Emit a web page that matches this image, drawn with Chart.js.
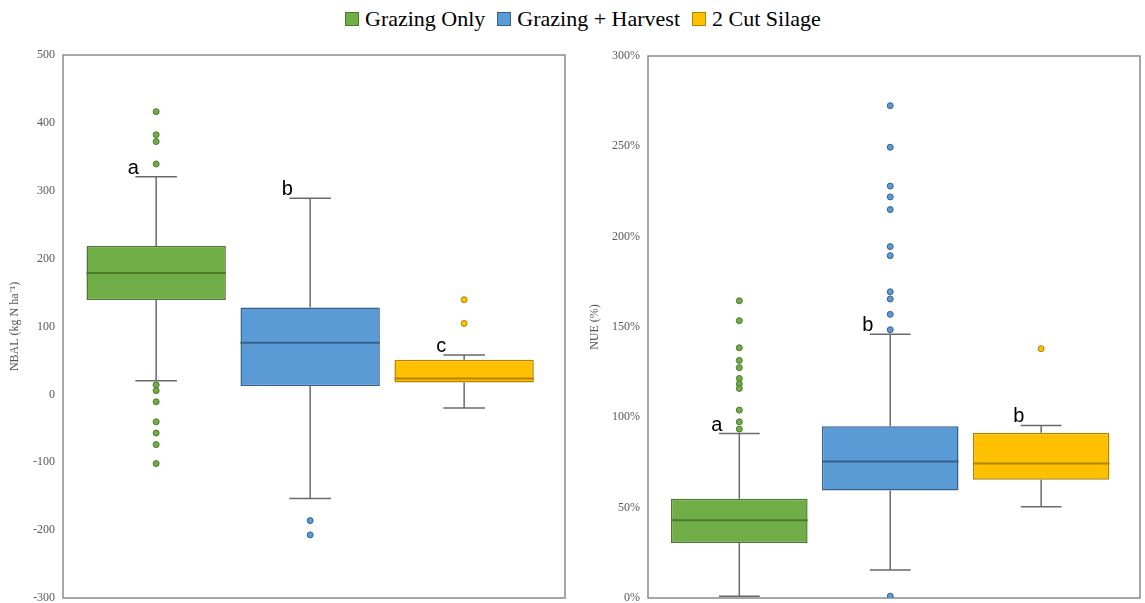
<!DOCTYPE html>
<html>
<head>
<meta charset="utf-8">
<script src="https://cdn.jsdelivr.net/npm/chart.js@4.4.1/dist/chart.umd.min.js"></script>
<style>
  body { margin: 0; background: #fff; width: 1145px; height: 603px; overflow: hidden; position: relative;
         font-family: "Liberation Serif", "Times New Roman", serif; }
  #legend { position: absolute; top: 6px; left: 345px; display: flex; align-items: center;
            font-size: 22px; color: #000; white-space: nowrap; }
  #legend .item { display: flex; align-items: center; margin-right: 12px; }
  #legend .sw { width: 12px; height: 12px; border: 1px solid; margin-right: 6px; }
  #left  { position: absolute; left: 0;     top: 0; width: 575px; height: 603px; }
  #right { position: absolute; left: 580px; top: 0; width: 565px; height: 603px; }
</style>
</head>
<body>
<div id="legend"></div>
<div id="left"><canvas id="nbalChart"></canvas></div>
<div id="right"><canvas id="nueChart"></canvas></div>
<script>
// Management groups
const groups = ['Grazing Only', 'Grazing + Harvest', '2 Cut Silage'];

// N balance (kg N ha-1): five-number summaries per group
const nbalMin    = [20, -153.5, -20];
const nbalQ1     = [139, 12.5, 17.5];
const nbalMedian = [179, 76, 23.5];
const nbalQ3     = [218.5, 128, 51];
const nbalMax    = [320.5, 289, 58];
const nbalOutliers = [
  [416.5, 382.5, 372.5, 339.5, 14, 5.5, -11, -40.5, -57, -74, -102],
  [-186, -207],
  [139.5, 104.5]
];
const nbalLetters = ['a', 'b', 'c'];
const nbalTicks = { min: -300, max: 500, step: 100 };

// N use efficiency (%): five-number summaries per group
const nueMin    = [1, 15.5, 50.5];
const nueQ1     = [30.5, 59.5, 65.5];
const nueMedian = [43, 75.5, 74.5];
const nueQ3     = [55, 95, 91.5];
const nueMax    = [91, 146, 95.5];
const nueOutliers = [
  [164.5, 153.5, 138.5, 131.5, 127.5, 121.5, 118.5, 116, 104, 97.5, 93.5],
  [272.5, 249.5, 228, 222, 215, 194.5, 189.5, 169.5, 165.5, 157, 148.5, 1],
  [138]
];
const nueLetters = ['a', 'b', 'b'];
const nueTicks = { min: 0, max: 300, step: 50 };

// Colours
const fills = ['#70AD47', '#5B9BD5', '#FFC000'];
const edges = ['#4A7A2E', '#35628C', '#B08400'];
const whiskerColor = '#6a6a6a';
const frameColor = '#8a8a8a';

// Shared legend
const legendEl = document.getElementById('legend');
groups.forEach((g, i) => {
  const item = document.createElement('div');
  item.className = 'item';
  const sw = document.createElement('span');
  sw.className = 'sw';
  sw.style.background = fills[i];
  sw.style.borderColor = edges[i];
  const label = document.createElement('span');
  label.textContent = g;
  item.appendChild(sw);
  item.appendChild(label);
  legendEl.appendChild(item);
});

// Whiskers, caps, medians, letters and the plot frame
const boxDecor = {
  id: 'boxDecor',
  beforeDatasetsDraw(chart, args, o) {
    const { ctx, chartArea: a, scales: { x, y } } = chart;
    ctx.save();
    ctx.strokeStyle = frameColor;
    ctx.lineWidth = 1.5;
    ctx.strokeRect(a.left, a.top, a.right - a.left, a.bottom - a.top);
    ctx.strokeStyle = whiskerColor;
    ctx.lineWidth = 1.5;
    o.q1.forEach((_, i) => {
      const cx = x.getPixelForValue(i + 1);
      const half = x.getPixelForValue(i + 1 + o.cap / 2) - cx;
      [[o.q3[i], o.max[i]], [o.q1[i], o.min[i]]].forEach(([from, to]) => {
        const y0 = y.getPixelForValue(from), y1 = y.getPixelForValue(to);
        ctx.beginPath();
        ctx.moveTo(cx, y0); ctx.lineTo(cx, y1);
        ctx.moveTo(cx - half, y1); ctx.lineTo(cx + half, y1);
        ctx.stroke();
      });
    });
    ctx.restore();
  },
  afterDatasetsDraw(chart, args, o) {
    const { ctx, scales: { x, y } } = chart;
    const bars = chart.getDatasetMeta(0).data;
    ctx.save();
    ctx.lineWidth = 2;
    o.median.forEach((m, i) => {
      const bar = bars[i];
      const half = bar.width / 2;
      const ym = y.getPixelForValue(m);
      ctx.strokeStyle = edges[i];
      ctx.beginPath();
      ctx.moveTo(bar.x - half, ym); ctx.lineTo(bar.x + half, ym);
      ctx.stroke();
    });
    ctx.fillStyle = '#000';
    ctx.font = '20px "Liberation Sans", Arial, sans-serif';
    ctx.textAlign = 'center';
    ctx.textBaseline = 'alphabetic';
    o.letters.forEach((t, i) => {
      const cx = x.getPixelForValue(i + 1 - o.cap / 2);
      const yc = y.getPixelForValue(o.max[i]);
      ctx.fillText(t, cx - 2, yc - 3);
    });
    ctx.restore();
  }
};

function makeChart(id, s, ticks, title, fmt, yWidth, pad) {
  const datasets = [{
    type: 'bar',
    data: s.q1.map((v, i) => ({ x: i + 1, y: [v, s.q3[i]] })),
    backgroundColor: fills,
    borderColor: edges,
    borderWidth: 1.5,
    borderSkipped: false,
    categoryPercentage: 1,
    barPercentage: 0.905,
    order: 2
  }];
  s.outliers.forEach((list, i) => {
    datasets.push({
      type: 'scatter',
      data: list.map(v => ({ x: i + 1, y: v })),
      backgroundColor: fills[i],
      borderColor: edges[i],
      borderWidth: 1,
      pointRadius: 3,
      order: 1
    });
  });
  return new Chart(document.getElementById(id), {
    type: 'bar',
    data: { datasets },
    options: {
      responsive: true,
      maintainAspectRatio: false,
      animation: false,
      layout: { padding: pad },
      plugins: {
        legend: { display: false },
        tooltip: { enabled: false },
        boxDecor: { ...s, cap: 0.27 }
      },
      scales: {
        x: {
          type: 'linear', min: 0.395, max: 3.655, display: false, offset: false,
          grid: { offset: false },
          afterBuildTicks: sc => { sc.ticks = groups.map((_, i) => ({ value: i + 1 })); }
        },
        y: {
          min: ticks.min, max: ticks.max,
          grid: { display: false, drawTicks: false },
          border: { display: false },
          afterFit: sc => { sc.width = yWidth; sc.paddingTop = 0; sc.paddingBottom = 0; },
          ticks: {
            stepSize: ticks.step, padding: 8, color: '#595959',
            font: { family: '"Liberation Serif", "Times New Roman", serif', size: 12 },
            callback: fmt
          },
          title: {
            display: true, text: title, color: '#595959', padding: { top: 8, bottom: 0 },
            font: { family: '"Liberation Serif", "Times New Roman", serif', size: 12 }
          }
        }
      }
    },
    plugins: [boxDecor]
  });
}

makeChart('nbalChart',
  { min: nbalMin, q1: nbalQ1, median: nbalMedian, q3: nbalQ3, max: nbalMax, outliers: nbalOutliers, letters: nbalLetters },
  nbalTicks, 'NBAL (kg N ha\u207B\u00B9)', v => v, 63, { top: 55, right: 10, bottom: 5, left: 0 });

makeChart('nueChart',
  { min: nueMin, q1: nueQ1, median: nueMedian, q3: nueQ3, max: nueMax, outliers: nueOutliers, letters: nueLetters },
  nueTicks, 'NUE (%)', v => v + '%', 68, { top: 56, right: 2, bottom: 5, left: 0 });
</script>
</body>
</html>
